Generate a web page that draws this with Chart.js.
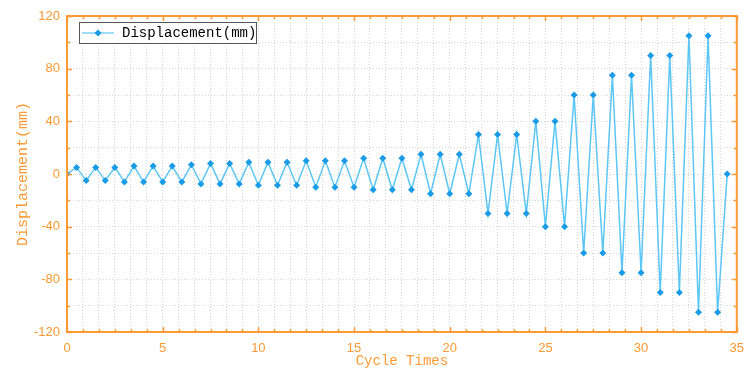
<!DOCTYPE html>
<html>
<head>
<meta charset="utf-8">
<script src="https://cdn.jsdelivr.net/npm/chart.js@4.4.1/dist/chart.umd.min.js"></script>
<style>
  body { margin: 0; background: #fff; }
  #wrap { width: 753px; height: 372px; }
</style>
</head>
<body>
<div id="wrap"><canvas id="grafico" width="753" height="372"></canvas></div>
<script>
// cycle time of each recorded point
const cycleTimes = [
  0, 0.5, 1, 1.5, 2, 2.5, 3, 3.5, 4, 4.5, 5, 5.5, 6, 6.5, 7, 7.5, 8, 8.5, 9, 9.5,
  10, 10.5, 11, 11.5, 12, 12.5, 13, 13.5, 14, 14.5, 15, 15.5, 16, 16.5, 17, 17.5,
  18, 18.5, 19, 19.5, 20, 20.5, 21, 21.5, 22, 22.5, 23, 23.5, 24, 24.5, 25, 25.5,
  26, 26.5, 27, 27.5, 28, 28.5, 29, 29.5, 30, 30.5, 31, 31.5, 32, 32.5, 33, 33.5,
  34, 34.5
];
// displacement (mm)
const displacement = [
  0, 5, -5, 5, -5, 5, -6, 6, -6, 6, -6, 6, -6, 7, -7.5, 8, -7.5, 8, -7.5, 9,
  -8.5, 9, -8.5, 9, -8.5, 10, -10, 10, -10, 10, -10, 12, -12, 12, -12, 12,
  -12, 15, -15, 15, -15, 15, -15, 30, -30, 30, -30, 30, -30, 40, -40, 40,
  -40, 60, -60, 60, -60, 75, -75, 75, -75, 90, -90, 90, -90, 105, -105, 105,
  -105, 0
];
const xTickLabels = [0, 5, 10, 15, 20, 25, 30, 35];
const yTickLabels = [-120, -80, -40, 0, 40, 80, 120];
const xMinorStep = 5 / 6;
const yMinorStep = 20;

const laranja = '#ff9933';
const fonteMono = '"Liberation Mono", "DejaVu Sans Mono", monospace';

function ehMaior(v, lista) {
  return lista.some(t => Math.abs(t - v) < 1e-6);
}

function gradeX(scale) {
  const ticks = [];
  for (let i = 0; i <= Math.round(35 / xMinorStep); i++) ticks.push({ value: i * xMinorStep });
  scale.ticks = ticks;
}

function gradeY(scale) {
  const ticks = [];
  for (let v = -120; v <= 120; v += yMinorStep) ticks.push({ value: v });
  scale.ticks = ticks;
}

// frame, inward ticks and legend
const molduraPlugin = {
  id: 'moldura',
  afterDraw(chart) {
    const ctx = chart.ctx;
    const a = chart.chartArea;
    const sx = chart.scales.x;
    const sy = chart.scales.y;
    ctx.save();
    ctx.strokeStyle = laranja;
    ctx.lineWidth = 1.5;
    sx.ticks.forEach(t => {
      const px = Math.round(sx.getPixelForValue(t.value)) + 0.5;
      const len = ehMaior(t.value, xTickLabels) ? 5 : 3;
      ctx.beginPath();
      ctx.moveTo(px, a.bottom); ctx.lineTo(px, a.bottom - len);
      ctx.moveTo(px, a.top); ctx.lineTo(px, a.top + len);
      ctx.stroke();
    });
    sy.ticks.forEach(t => {
      const py = Math.round(sy.getPixelForValue(t.value)) + 0.5;
      const len = ehMaior(t.value, yTickLabels) ? 5 : 3;
      ctx.beginPath();
      ctx.moveTo(a.left, py); ctx.lineTo(a.left + len, py);
      ctx.moveTo(a.right, py); ctx.lineTo(a.right - len, py);
      ctx.stroke();
    });
    ctx.lineWidth = 2;
    ctx.strokeRect(a.left, a.top, a.right - a.left, a.bottom - a.top);

    // legend
    const lx = a.left + 12, ly = a.top + 6, lw = 177, lh = 21;
    ctx.fillStyle = '#fff';
    ctx.fillRect(lx, ly, lw, lh);
    ctx.strokeStyle = '#555';
    ctx.lineWidth = 1;
    ctx.strokeRect(lx + 0.5, ly + 0.5, lw, lh);
    const my = ly + lh / 2 + 0.5;
    ctx.strokeStyle = '#5cc6f5';
    ctx.lineWidth = 1.2;
    ctx.beginPath(); ctx.moveTo(lx + 3, my); ctx.lineTo(lx + 35, my); ctx.stroke();
    ctx.fillStyle = '#1a9be8';
    ctx.beginPath();
    ctx.moveTo(lx + 19, my - 3.5); ctx.lineTo(lx + 22.5, my);
    ctx.lineTo(lx + 19, my + 3.5); ctx.lineTo(lx + 15.5, my);
    ctx.closePath(); ctx.fill();
    ctx.fillStyle = '#000';
    ctx.font = '14px ' + fonteMono;
    ctx.textBaseline = 'middle';
    ctx.fillText('Displacement(mm)', lx + 43, my);
    ctx.restore();
  }
};

const pontos = cycleTimes.map((t, i) => ({ x: t, y: displacement[i] }));

new Chart(document.getElementById('grafico'), {
  type: 'line',
  data: {
    datasets: [{
      label: 'Displacement(mm)',
      data: pontos,
      borderColor: '#5cc6f5',
      borderWidth: 1.5,
      pointStyle: 'rectRot',
      pointRadius: 3.5,
      pointBackgroundColor: '#1a9be8',
      pointBorderColor: '#1a9be8',
      pointBorderWidth: 0,
      tension: 0
    }]
  },
  options: {
    responsive: false,
    animation: false,
    layout: { padding: { top: 16, right: 6, left: 0, bottom: 0 } },
    plugins: { legend: { display: false }, tooltip: { enabled: false } },
    scales: {
      x: {
        type: 'linear',
        min: 0, max: 35,
        afterBuildTicks: gradeX,
        afterFit: s => { s.height = 40; },
        grid: { color: '#d6d6d6', lineWidth: 1, drawTicks: false },
        border: { display: false, dash: [1, 2] },
        ticks: {
          autoSkip: false, maxRotation: 0, padding: 9,
          color: laranja,
          font: { family: '"Liberation Sans", Arial, sans-serif', size: 13 },
          callback: v => ehMaior(v, xTickLabels) ? String(Math.round(v)) : ''
        },
        title: {
          display: true, text: 'Cycle Times', color: laranja,
          font: { family: fonteMono, size: 14 },
          padding: { top: 0, bottom: 2 }
        }
      },
      y: {
        min: -120, max: 120,
        afterBuildTicks: gradeY,
        afterFit: s => { s.width = 67; },
        grid: { color: '#d6d6d6', lineWidth: 1, drawTicks: false },
        border: { display: false, dash: [1, 2] },
        ticks: {
          autoSkip: false, padding: 7,
          color: laranja,
          font: { family: '"Liberation Sans", Arial, sans-serif', size: 13 },
          callback: v => ehMaior(v, yTickLabels) ? String(v) : ''
        },
        title: {
          display: true, text: 'Displacement(mm)', color: laranja,
          font: { family: fonteMono, size: 15 },
          padding: { top: 14, bottom: 0 }
        }
      }
    }
  },
  plugins: [molduraPlugin]
});
</script>
</body>
</html>
